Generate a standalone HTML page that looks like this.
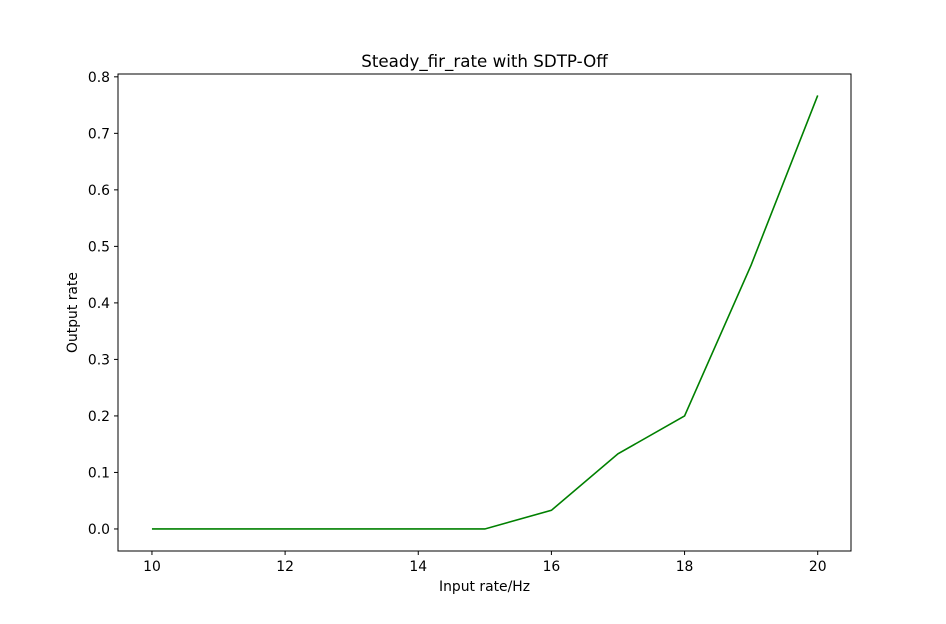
<!DOCTYPE html>
<html><head><meta charset="utf-8"><style>
body{margin:0;background:#fff;}
svg text{font-family:"DejaVu Sans","Liberation Sans",sans-serif;fill:#000;}
</style></head><body>
<svg id="chart" width="946" height="619"></svg>
<script>
const xValues=[10,11,12,13,14,15,16,17,18,19,20];
const yValues=[0,0,0,0,0,0,0.033,0.133,0.2,0.467,0.767];
const xTicks=[10,12,14,16,18,20];
const yTicks=[0.0,0.1,0.2,0.3,0.4,0.5,0.6,0.7,0.8];
const L=118,R=851,T=74,B=551;
const xMin=9.49,xMax=20.5,yMin=-0.039,yMax=0.805;
const sx=v=>L+(v-xMin)/(xMax-xMin)*(R-L);
const sy=v=>B-(v-yMin)/(yMax-yMin)*(B-T);
const svg=document.getElementById('chart');
const NS='http://www.w3.org/2000/svg';
function mk(tag,attrs,parent){const e=document.createElementNS(NS,tag);for(const k in attrs)e.setAttribute(k,attrs[k]);(parent||svg).appendChild(e);return e;}
const title=mk('text',{x:(L+R)/2,y:67,'text-anchor':'middle','font-size':'16.7'});
title.textContent='Steady_fir_rate with SDTP-Off';


const line=mk('polyline',{points:xValues.map((x,i)=>sx(x)+','+sy(yValues[i])).join(' '),fill:'none',stroke:'#008000','stroke-width':'1.6'});


const frame=mk('rect',{x:L,y:T,width:R-L,height:B-T,fill:'none',stroke:'#000','stroke-width':'1'});


xTicks.forEach(t=>{
  const x=sx(t);
  const tk=mk('line',{x1:x,x2:x,y1:B,y2:B+4,stroke:'#000'});
  
  
  const lb=mk('text',{x:x,y:B+20,'text-anchor':'middle','font-size':'13.9'});
  lb.textContent=t;
  
  
});
yTicks.forEach(t=>{
  const y=sy(t);
  const tk=mk('line',{x1:L-4,x2:L,y1:y,y2:y,stroke:'#000'});
  
  
  const lb=mk('text',{x:L-8,y:y+5,'text-anchor':'end','font-size':'13.9'});
  lb.textContent=t.toFixed(1);
  
  
});
const xt=mk('text',{x:(L+R)/2,y:591,'text-anchor':'middle','font-size':'13.9'});
xt.textContent='Input rate/Hz';


const yt=mk('text',{x:77,y:(T+B)/2,'text-anchor':'middle','font-size':'13.9',transform:'rotate(-90 77 '+((T+B)/2)+')'});
yt.textContent='Output rate';


</script>
</body></html>
